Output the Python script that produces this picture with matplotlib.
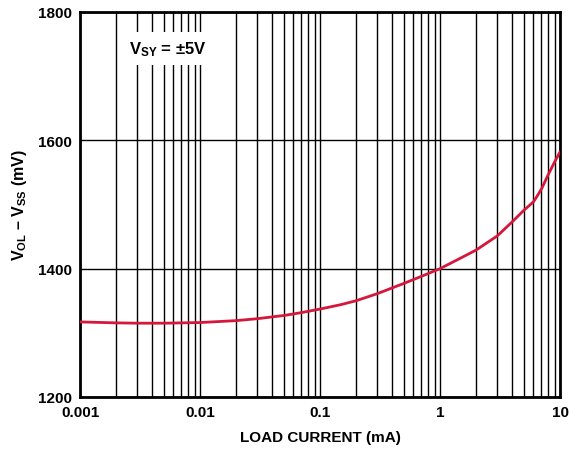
import matplotlib
matplotlib.use("Agg")
import matplotlib.pyplot as plt
from matplotlib.ticker import LogLocator, FixedLocator, NullFormatter
from matplotlib.patches import Rectangle
import numpy as np

plt.rcParams['font.family'] = ['Liberation Sans', 'DejaVu Sans']
plt.rcParams['font.weight'] = 'bold'
plt.rcParams['mathtext.fontset'] = 'custom'
plt.rcParams['mathtext.rm'] = 'Liberation Sans:bold'
plt.rcParams['mathtext.bf'] = 'Liberation Sans:bold'
plt.rcParams['mathtext.it'] = 'Liberation Sans:bold'

load_current = [0.001, 0.002, 0.003, 0.005, 0.01, 0.02, 0.03, 0.05, 0.07, 0.1, 0.15, 0.2, 0.3, 0.5, 0.7, 1,
                1.4, 2, 3, 4, 5, 6, 6.3, 7, 8, 9, 10]
vol_vss = [1317, 1315.5, 1315, 1315, 1316, 1319, 1322, 1327, 1331.5, 1337, 1344, 1350, 1361, 1377, 1388, 1400,
           1414, 1429, 1451, 1473, 1491, 1504, 1510, 1524, 1547, 1566, 1582]

x_ticks = [0.001, 0.01, 0.1, 1, 10]
x_tick_labels = ['0.001', '0.01', '0.1', '1', '10']
y_ticks = [1200, 1400, 1600, 1800]

fig = plt.figure(figsize=(5.69, 4.52), dpi=100)
ax = fig.add_axes([0.1406, 0.1195, 0.8436, 0.8518])

ax.set_xscale('log')
ax.set_xlim(0.001, 10)
ax.set_ylim(1200, 1800)

ax.xaxis.set_major_locator(FixedLocator(x_ticks))
ax.set_xticklabels(x_tick_labels)
ax.xaxis.set_minor_locator(LogLocator(base=10, subs=np.arange(2, 10)))
ax.xaxis.set_minor_formatter(NullFormatter())
ax.set_yticks(y_ticks)

ax.grid(True, which='both', axis='x', color='black', linewidth=1.0)
ax.grid(True, which='major', axis='y', color='black', linewidth=1.0)
ax.tick_params(which='both', length=0, labelsize=11, pad=6)
for lab in ax.get_xticklabels() + ax.get_yticklabels():
    lab.set_fontweight('bold')

for s in ax.spines.values():
    s.set_linewidth(2)

ax.plot(load_current, vol_vss, color='#d6163a', linewidth=2, zorder=3,
        solid_joinstyle='round', solid_capstyle='round')

ax.add_patch(Rectangle((0.104, 0.862), 0.156, 0.086, transform=ax.transAxes,
                       facecolor='white', edgecolor='none', zorder=4))
ax.text(0.182, 0.905, r'V$_{\mathbf{SY}}$ = ±5V', fontsize=12, fontweight='bold',
        ha='center', va='center', transform=ax.transAxes, zorder=5)

ax.set_xlabel('LOAD CURRENT (mA)', fontsize=11, fontweight='bold', labelpad=8)
ax.set_ylabel(r'V$_{\mathbf{OL}}$ – V$_{\mathbf{SS}}$ (mV)', fontsize=11.5, fontweight='bold', labelpad=6)

fig.savefig('out.png', dpi=100)
